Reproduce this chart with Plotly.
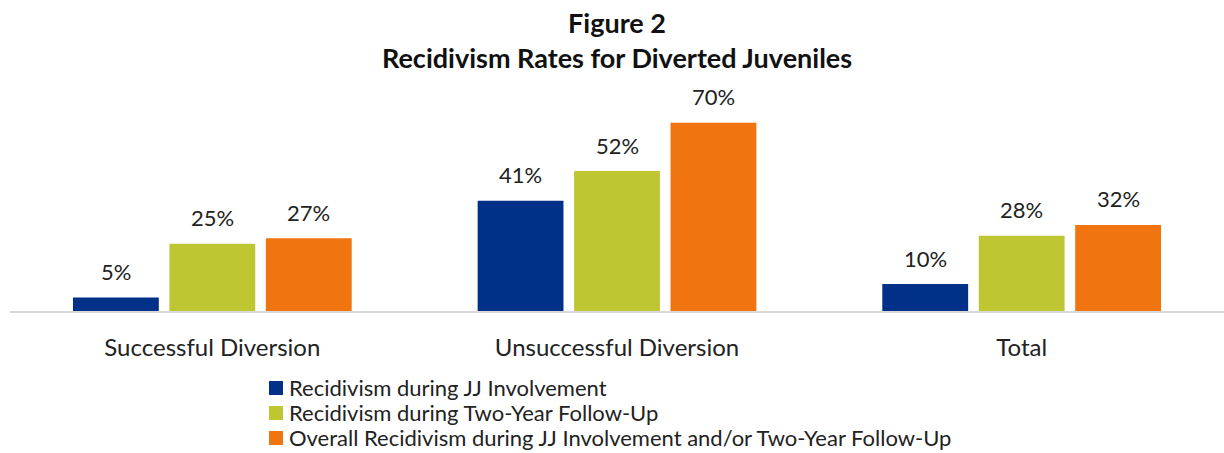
import plotly.graph_objects as go

categories = ["Successful Diversion", "Unsuccessful Diversion", "Total"]
series_names = [
    "Recidivism during JJ Involvement",
    "Recidivism during Two-Year Follow-Up",
    "Overall Recidivism during JJ Involvement and/or Two-Year Follow-Up",
]
jj_involvement = [5, 41, 10]
two_year_followup = [25, 52, 28]
overall = [27, 70, 32]
title_lines = ["Figure 2", "Recidivism Rates for Diverted Juveniles"]
colors = ["#003087", "#BEC632", "#F07511"]

FONT = "Lato, 'Open Sans', sans-serif"
W, H = 1224, 453
ML, MR, MT, MB = 10, 0, 95, 142
PW, PH = W - ML - MR, H - MT - MB


def px2x(px):
    return (px - ML) / PW


def px2y(py):
    return (H - MB - py) / PH


fig = go.Figure()
all_series = [jj_involvement, two_year_followup, overall]
for name, vals, col in zip(series_names, all_series, colors):
    fig.add_trace(go.Bar(
        x=categories, y=vals, name=name,
        marker=dict(color=col, line=dict(width=0)),
    ))

# value labels above bars
slot = PW / len(categories) * (1 - 0.285) / len(series_names)
for si, vals in enumerate(all_series):
    for ci, v in enumerate(vals):
        fig.add_annotation(
            x=categories[ci], y=v, xref="x", yref="y", text=f"{v}%", showarrow=False,
            xshift=(si - 1) * slot, yanchor="middle", yshift=26,
            font=dict(family=FONT, size=22, color="#222222"),
        )

# title
fig.add_annotation(
    x=0.5, xref="paper", y=px2y(40), yref="paper", showarrow=False,
    xanchor="center", yanchor="middle",
    text="<br>".join(f"<b>{t}</b>" for t in title_lines),
    font=dict(family=FONT, size=27, color="#111111"),
)

# legend (drawn manually for exact spacing)
row_centers = [387, 412, 437]
for name, col, cy in zip(series_names, colors, row_centers):
    fig.add_shape(
        type="rect", xref="paper", yref="paper",
        x0=px2x(269), x1=px2x(283), y0=px2y(cy - 6), y1=px2y(cy + 8),
        fillcolor=col, line=dict(width=0),
    )
    fig.add_annotation(
        x=px2x(287), xref="paper", y=px2y(cy), yref="paper", showarrow=False,
        xanchor="left", yanchor="middle", text=name,
        font=dict(family=FONT, size=22, color="#222222"),
    )

fig.update_layout(
    width=W, height=H,
    margin=dict(l=ML, r=MR, t=MT, b=MB, autoexpand=False),
    paper_bgcolor="white", plot_bgcolor="white",
    barmode="group", bargap=0.285, bargroupgap=0.11,
    font=dict(family=FONT, color="#222222"),
    xaxis=dict(
        showgrid=False, showline=True, linecolor="#D9D9D9", linewidth=2,
        ticks="outside", ticklen=14, tickcolor="rgba(0,0,0,0)",
        tickfont=dict(family=FONT, size=24, color="#222222"),
    ),
    yaxis=dict(range=[0, PH / 2.69], visible=False, showgrid=False, zeroline=False),
    showlegend=False,
)

fig.write_html(
    "out.html",
    config={"displayModeBar": False},
    post_script="document.body.style.margin='0';",
)
